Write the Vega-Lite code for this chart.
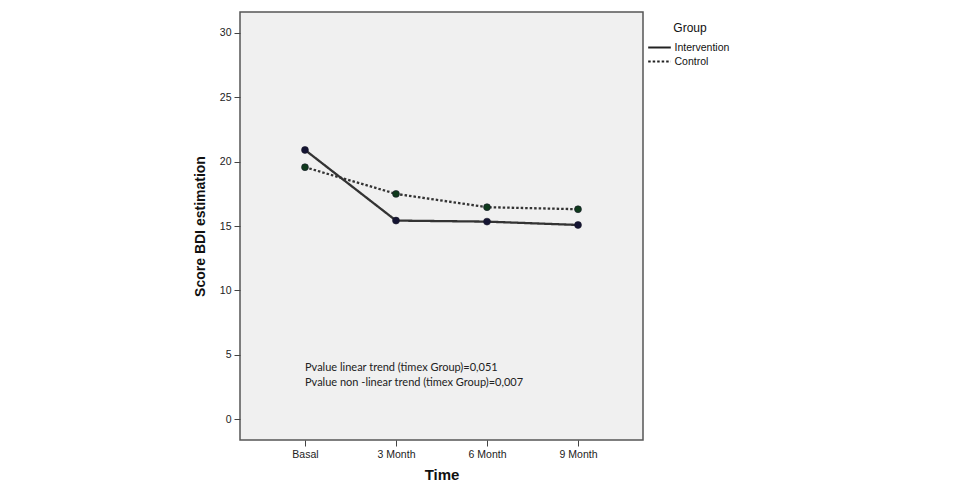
{
  "$schema": "https://vega.github.io/schema/vega-lite/v6.json",
  "autosize": {"type": "none"},
  "width": 403,
  "height": 428,
  "padding": {"left": 240, "top": 12, "right": 314, "bottom": 56},
  "background": "white",
  "config": {
    "font": "Liberation Sans",
    "view": {"fill": "#f0f0f0", "stroke": "#555555", "strokeWidth": 1.5},
    "axis": {
      "domain": false,
      "grid": false,
      "tickColor": "#444444",
      "tickSize": 6,
      "tickWidth": 1,
      "labelColor": "#222222",
      "labelFont": "Liberation Sans",
      "labelFontSize": 10.5,
      "labelPadding": 3,
      "titleColor": "#111111",
      "titleFont": "Liberation Sans",
      "titleFontWeight": "bold"
    }
  },
  "datasets": {
    "scores": [
      {"time": "Basal", "group": "Intervention", "score": 20.9},
      {"time": "3 Month", "group": "Intervention", "score": 15.42},
      {"time": "6 Month", "group": "Intervention", "score": 15.34},
      {"time": "9 Month", "group": "Intervention", "score": 15.08},
      {"time": "Basal", "group": "Control", "score": 19.56},
      {"time": "3 Month", "group": "Control", "score": 17.49},
      {"time": "6 Month", "group": "Control", "score": 16.46},
      {"time": "9 Month", "group": "Control", "score": 16.3}
    ],
    "notes": [
      {"time": "Basal", "score": 4.0, "note": "Pvalue linear trend (timex Group)=0,051"},
      {"time": "Basal", "score": 2.82, "note": "Pvalue non -linear trend (timex Group)=0,007"}
    ]
  },
  "encoding": {
    "x": {
      "field": "time",
      "type": "ordinal",
      "sort": ["Basal", "3 Month", "6 Month", "9 Month"],
      "scale": {"type": "point", "padding": 0.714},
      "axis": {"title": "Time", "labelAngle": 0, "titleFontSize": 15, "titlePadding": 8}
    },
    "y": {
      "field": "score",
      "type": "quantitative",
      "scale": {"domain": [-1.6, 31.6], "nice": false, "zero": false},
      "axis": {"title": "Score BDI estimation", "values": [0, 5, 10, 15, 20, 25, 30], "titleFontSize": 14, "titlePadding": 12}
    }
  },
  "layer": [
    {
      "data": {"name": "scores"},
      "mark": {"type": "line", "color": "#333333", "strokeWidth": 2.3},
      "encoding": {
        "detail": {"field": "group"},
        "strokeDash": {
          "field": "group",
          "type": "nominal",
          "scale": {"domain": ["Intervention", "Control"], "range": [[1, 0], [2.5, 2]]},
          "legend": {
            "title": "Group",
            "orient": "none",
            "legendX": 411,
            "legendY": 11,
            "titleAnchor": "middle",
            "titleFont": "Liberation Sans",
            "titleFontSize": 12,
            "titleFontWeight": "normal",
            "titleColor": "#111111",
            "titlePadding": 4,
            "labelFont": "Liberation Sans",
            "labelFontSize": 10.5,
            "labelColor": "#111111",
            "symbolType": "M-1.6,0H1.6",
            "symbolStrokeColor": "#222222",
            "symbolStrokeWidth": 2,
            "symbolSize": 200,
            "rowPadding": 0,
            "labelOffset": 6.5
          }
        }
      }
    },
    {
      "data": {"name": "scores"},
      "mark": {"type": "circle", "size": 48, "opacity": 1, "stroke": "#1a1a2a", "strokeWidth": 0.6},
      "encoding": {
        "color": {
          "field": "group",
          "type": "nominal",
          "scale": {"domain": ["Intervention", "Control"], "range": ["#141432", "#0f3a1c"]},
          "legend": null
        }
      }
    },
    {
      "data": {"name": "notes"},
      "mark": {"type": "text", "align": "left", "baseline": "middle", "font": "Lato", "fontSize": 11, "color": "#222222"},
      "encoding": {"text": {"field": "note"}}
    }
  ]
}
